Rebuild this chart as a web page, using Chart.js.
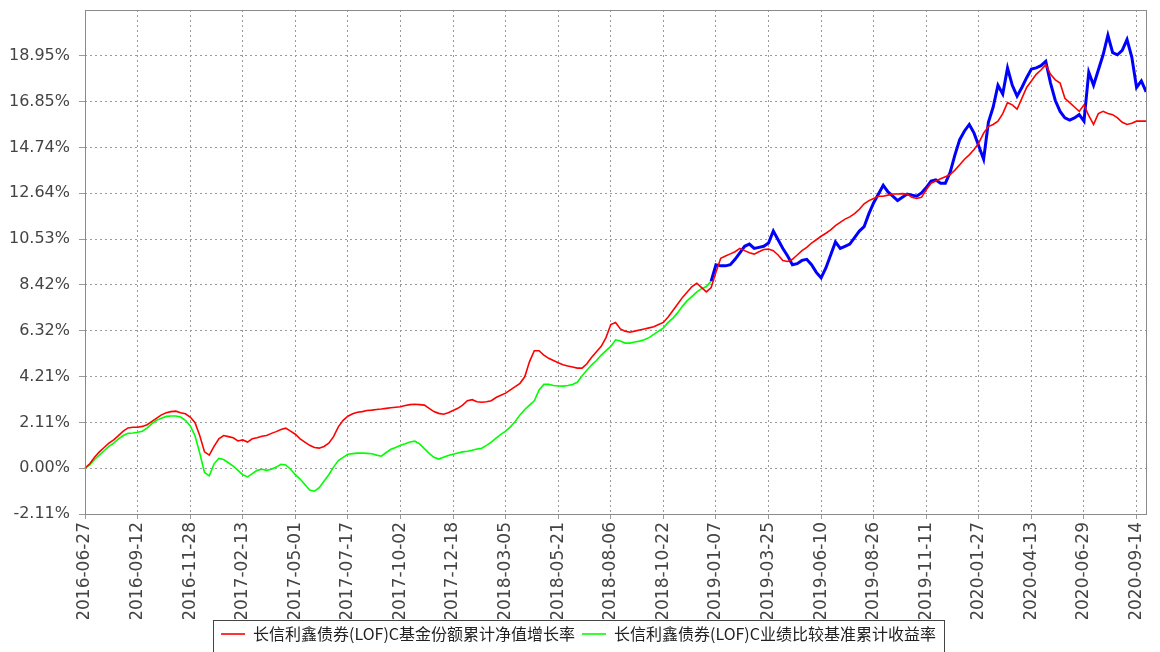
<!DOCTYPE html>
<html><head><meta charset="utf-8">
<script src="https://cdn.jsdelivr.net/npm/chart.js@4.4.1/dist/chart.umd.min.js"></script>
<style>html,body{margin:0;padding:0;background:#fff}#wrap{width:1160px;height:652px;position:relative}</style>
</head><body><div id="wrap"><canvas id="c"></canvas></div>
<script>
const startDate = '2016-06-27';
const weekCount = 223;
const xTickLabels = ['2016-06-27','2016-09-12','2016-11-28','2017-02-13','2017-05-01','2017-07-17','2017-10-02','2017-12-18','2018-03-05','2018-05-21','2018-08-06','2018-10-22','2019-01-07','2019-03-25','2019-06-10','2019-08-26','2019-11-11','2020-01-27','2020-04-13','2020-06-29','2020-09-14'];
const yTickValues = [-2.106,0,2.106,4.212,6.318,8.424,10.53,12.636,14.742,16.848,18.954];
const yTickLabels = ['-2.11%','0.00%','2.11%','4.21%','6.32%','8.42%','10.53%','12.64%','14.74%','16.85%','18.95%'];
const seriesNames = ['长信利鑫债券(LOF)C基金份额累计净值增长率','长信利鑫债券(LOF)C业绩比较基准累计收益率'];
const fundReturn = [
0,0.2,0.5,0.75,0.95,1.15,1.3,1.5,1.7,1.85,
1.88,1.88,1.92,2.0,2.15,2.3,2.45,2.55,2.6,2.62,
2.55,2.5,2.35,2.1,1.5,0.75,0.6,1.0,1.35,1.5,
1.45,1.4,1.25,1.3,1.2,1.35,1.4,1.47,1.5,1.6,
1.68,1.78,1.84,1.7,1.56,1.35,1.2,1.05,0.95,0.92,
1.0,1.15,1.45,1.9,2.2,2.39,2.5,2.57,2.6,2.65,
2.67,2.7,2.72,2.75,2.78,2.8,2.82,2.88,2.92,2.94,
2.92,2.9,2.75,2.6,2.52,2.48,2.55,2.65,2.75,2.9,
3.1,3.15,3.05,3.03,3.05,3.1,3.25,3.35,3.45,3.6,
3.75,3.9,4.2,4.9,5.4,5.4,5.2,5.05,4.95,4.85,
4.75,4.7,4.65,4.6,4.6,4.8,5.1,5.35,5.6,6.0,
6.6,6.7,6.4,6.3,6.25,6.3,6.35,6.4,6.45,6.5,
6.6,6.7,6.95,7.25,7.55,7.85,8.1,8.35,8.5,8.3,
8.1,8.3,9.0,9.65,9.75,9.85,9.95,10.1,10.0,9.9,
9.84,9.95,10.05,10.07,10.0,9.8,9.55,9.5,9.6,9.8,
10.0,10.15,10.35,10.5,10.66,10.8,10.95,11.15,11.3,11.45,
11.55,11.7,11.9,12.15,12.3,12.4,12.5,12.5,12.55,12.6,
12.6,12.62,12.6,12.45,12.4,12.45,12.8,13.1,13.2,13.3,
13.4,13.5,13.7,13.95,14.2,14.4,14.65,14.95,15.4,15.7,
15.8,15.95,16.3,16.8,16.7,16.5,17.0,17.5,17.8,18.1,
18.3,18.55,18.1,17.85,17.7,17.0,16.8,16.6,16.4,16.7,
16.2,15.8,16.3,16.4,16.3,16.25,16.1,15.9,15.8,15.85,
15.95,15.95,15.95];
const benchmarkReturn = [
0,0.15,0.4,0.6,0.8,1.0,1.15,1.35,1.5,1.6,
1.62,1.65,1.7,1.85,2.05,2.2,2.3,2.38,2.4,2.4,
2.35,2.2,1.95,1.5,0.7,-0.2,-0.35,0.2,0.45,0.4,
0.25,0.1,-0.1,-0.3,-0.4,-0.25,-0.1,-0.05,-0.1,-0.05,
0.05,0.18,0.15,-0.05,-0.3,-0.5,-0.75,-1.0,-1.06,-0.9,
-0.6,-0.3,0.05,0.35,0.5,0.64,0.67,0.69,0.7,0.68,
0.66,0.6,0.55,0.72,0.87,0.95,1.05,1.12,1.2,1.24,
1.12,0.9,0.68,0.5,0.42,0.5,0.58,0.64,0.7,0.75,
0.78,0.82,0.88,0.92,1.05,1.2,1.38,1.55,1.7,1.9,
2.15,2.45,2.7,2.9,3.1,3.6,3.85,3.85,3.8,3.78,
3.77,3.8,3.85,3.95,4.25,4.5,4.75,4.95,5.2,5.4,
5.6,5.9,5.85,5.75,5.75,5.8,5.84,5.9,6.0,6.15,
6.3,6.45,6.7,6.9,7.15,7.45,7.7,7.9,8.1,8.25,
8.35,8.6,9.35,9.3,9.3,9.35,9.6,9.9,10.2,10.3,
10.1,10.15,10.2,10.35,10.9,10.5,10.1,9.75,9.35,9.4,
9.55,9.6,9.35,9.0,8.75,9.2,9.8,10.4,10.1,10.2,
10.3,10.6,10.9,11.1,11.7,12.2,12.6,13.0,12.7,12.5,
12.3,12.45,12.6,12.55,12.5,12.65,12.9,13.2,13.25,13.1,
13.1,13.6,14.4,15.1,15.5,15.8,15.4,14.8,14.2,15.9,
16.6,17.6,17.2,18.4,17.6,17.1,17.5,17.95,18.35,18.4,
18.5,18.7,17.7,16.9,16.4,16.1,16.0,16.1,16.25,15.95,
18.2,17.6,18.3,19.0,19.9,19.1,19.0,19.2,19.7,18.9,
17.5,17.8,17.3];
const blueFromIndex = 131;

const categories = [];
const d0 = new Date(startDate + 'T00:00:00Z');
for (let i = 0; i < weekCount; i++) {
  const d = new Date(d0.getTime() + i * 7 * 86400000);
  categories.push(d.toISOString().slice(0, 10));
}

const frame = {
  id: 'frame',
  afterDraw(chart) {
    const {ctx, chartArea: a} = chart;
    ctx.save();
    ctx.strokeStyle = '#8a8a8a';
    ctx.lineWidth = 1;
    ctx.setLineDash([]);
    ctx.strokeRect(Math.round(a.left) + 0.5, Math.round(a.top) + 0.5, Math.round(a.right - a.left), Math.round(a.bottom - a.top));
    const lg = chart.legend;
    if (lg && lg.legendHitBoxes && lg.legendHitBoxes.length) {
      let l = Infinity, r = -Infinity, t = Infinity;
      lg.legendHitBoxes.forEach(b => { l = Math.min(l, b.left); r = Math.max(r, b.left + b.width); t = Math.min(t, b.top); });
      ctx.strokeStyle = '#444';
      ctx.strokeRect(Math.round(l - 8) + 0.5, Math.round(t - 6) + 0.5, Math.round(r - l + 16), 60);
    }
    ctx.restore();
  }
};

new Chart(document.getElementById('c'), {
  type: 'line',
  data: {
    labels: categories,
    datasets: [
      { label: seriesNames[0], data: fundReturn, borderColor: '#ff0000', backgroundColor: '#ff0000', borderWidth: 1.6, pointRadius: 0, tension: 0 },
      { label: seriesNames[1], data: benchmarkReturn, borderColor: '#00ff00', backgroundColor: '#00ff00', borderWidth: 1.6, pointRadius: 0, tension: 0,
        segment: {
          borderColor: ctx => ctx.p0DataIndex >= blueFromIndex ? '#0000ff' : '#00ff00',
          borderWidth: ctx => ctx.p0DataIndex >= blueFromIndex ? 3 : 1.6
        } }
    ]
  },
  options: {
    responsive: true,
    maintainAspectRatio: false,
    animation: false,
    layout: { padding: { top: 10, right: 3, left: 0, bottom: 0 } },
    plugins: {
      tooltip: { enabled: false },
      legend: {
        position: 'bottom',
        labels: { font: { family: '"Noto Sans CJK SC"', size: 16 }, color: '#222', usePointStyle: true, pointStyle: 'line', pointStyleWidth: 24, padding: 7 }
      }
    },
    scales: {
      x: {
        type: 'category',
        offset: false,
        afterBuildTicks: s => { s.ticks = s.ticks.filter(t => t.value % 11 === 0); },
        afterFit: s => { s.height = 105; },
        ticks: { autoSkip: false, minRotation: 90, maxRotation: 90, padding: 3, color: '#444', font: { family: '"DejaVu Sans"', size: 17 },
          callback: v => xTickLabels[v / 11] },
        grid: { color: '#9a9a9a', tickColor: '#9a9a9a', tickLength: 5, lineWidth: 1 },
        border: { display: false, dash: [2, 3] }
      },
      y: {
        min: -2.106,
        max: 21.06,
        afterBuildTicks: s => { s.ticks = yTickValues.map(v => ({ value: v })); },
        afterFit: s => { s.width = 85; s.paddingTop = 0; s.paddingBottom = 0; },
        ticks: { padding: 9, color: '#444', font: { family: '"DejaVu Sans"', size: 16 },
          callback: (v, i) => yTickLabels[i] },
        grid: { color: '#9a9a9a', tickColor: '#9a9a9a', tickLength: 6, lineWidth: 1 },
        border: { display: false, dash: [2, 3] }
      }
    }
  },
  plugins: [frame]
});
</script>
</body></html>
